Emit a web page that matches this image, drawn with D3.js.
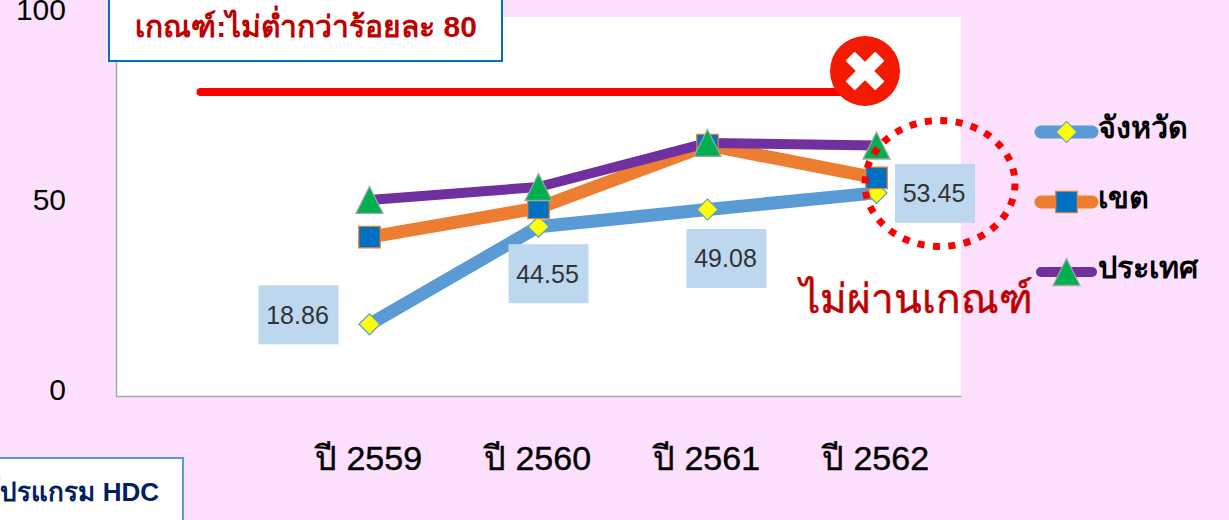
<!DOCTYPE html>
<html>
<head>
<meta charset="utf-8">
<script src="https://cdn.jsdelivr.net/npm/d3@7"></script>
<style>
  html, body { margin: 0; padding: 0; background: #fde0fd; overflow: hidden; }
  svg { display: block; }
  text { font-family: "Liberation Sans", "Noto Sans", sans-serif; }
</style>
</head>
<body>
<div id="chart"></div>
<script>
// first category is blank, only the 80 line starts there
var categories = ["", "ปี 2559", "ปี 2560", "ปี 2561", "ปี 2562"];
var yTicks = [0, 50, 100];
var criterion = [80, 80, 80, 80, 80];
var province = [null, 18.86, 44.55, 49.08, 53.45];
var region = [null, 41.8, 49.5, 66, 57.4];
var country = [null, 51.6, 55, 66.6, 65.9];
var seriesNames = ["จังหวัด", "เขต", "ประเทศ"];

var svg = d3.select("#chart")
    .append("svg")
    .attr("width", 1229)
    .attr("height", 520);

var x = d3.scaleBand().domain(categories).range([116, 961]);
var y = d3.scaleLinear().domain([0, 100]).range([396, 16]);

//-------------------------PLOT AREA-------------------------\\
svg.append("rect")
    .attr("x", 116).attr("y", 17)
    .attr("width", 845).attr("height", 379)
    .attr("fill", "#ffffff");

//-------------------------AXES-------------------------\\
var xAxis = d3.axisBottom(x).tickSize(0).tickPadding(50);
var yAxis = d3.axisLeft(y).tickValues(yTicks).tickSize(0).tickPadding(50);

var gx = svg.append("g").attr("transform", "translate(0,396)").call(xAxis);
gx.select(".domain").attr("stroke", "#a6a6a6").attr("stroke-width", 1.5);
gx.selectAll("text")
    .attr("dx", -1)
    .style("font-size", "34px")
    .style("font-family", '"Liberation Sans", "Noto Sans", sans-serif')
    .style("fill", "#000")
    .style("stroke", "#000")
    .style("stroke-width", 0.4);

var gy = svg.append("g").attr("transform", "translate(116,0)").call(yAxis);
gy.select(".domain").attr("stroke", "#a6a6a6").attr("stroke-width", 1.5);
gy.selectAll("text")
    .attr("transform", "translate(0,-6)")
    .style("font-size", "30px")
    .style("font-family", '"Liberation Sans", sans-serif')
    .style("fill", "#000");

//-------------------------SERIES-------------------------\\
var line = d3.line()
    .defined(d => d !== null)
    .x((d, i) => x(categories[i]) + x.bandwidth() / 2)
    .y(d => y(d));

var seriesStyle = [
    { values: province, color: "#5b9bd5", width: 13, shape: "diamond" },
    { values: region, color: "#ed7d31", width: 13, shape: "square" },
    { values: country, color: "#7030a0", width: 10, shape: "triangle" }
];

svg.append("path")
    .attr("d", line(criterion))
    .attr("fill", "none")
    .attr("stroke", "#ff0000")
    .attr("stroke-width", 8)
    .attr("stroke-linecap", "round");

function drawMarker(sel, shape) {
    if (shape == "diamond") {
        sel.attr("d", d3.symbol(d3.symbolSquare, 220)())
            .attr("fill", "#ffff00").attr("stroke", "#5b9bd5").attr("stroke-width", 1.2);
    } else if (shape == "square") {
        sel.attr("d", d3.symbol(d3.symbolSquare, 462)())
            .attr("fill", "#0070c0").attr("stroke", "#ed7d31").attr("stroke-width", 1.2);
    } else {
        sel.attr("d", d3.symbol(d3.symbolTriangle, 316)())
            .attr("fill", "#00b050").attr("stroke", "#a5a5a5").attr("stroke-width", 1.2);
    }
}

// marker transform, triangle is stretched and centred on its box like the original
function markerTransform(px, py, shape) {
    var t = "translate(" + px + "," + py + ")";
    if (shape == "diamond") return t + " rotate(45)";
    if (shape == "triangle") return t + " translate(0,4.5) scale(1,1.15)";
    return t;
}

seriesStyle.forEach(function(s) {
    svg.append("path")
        .attr("d", line(s.values))
        .attr("fill", "none")
        .attr("stroke", s.color)
        .attr("stroke-width", s.width)
        .attr("stroke-linejoin", "round");
});

seriesStyle.forEach(function(s) {
    svg.selectAll(".m-" + s.shape)
        .data(s.values.map((v, i) => [v, i]).filter(d => d[0] !== null))
        .join("path")
        .call(drawMarker, s.shape)
        .attr("transform", function(d) {
            return markerTransform(x(categories[d[1]]) + x.bandwidth() / 2, y(d[0]), s.shape);
        });
});

//-------------------------DATA LABELS-------------------------\\
// offset of each label box from its point
var labelDx = [0, -71, 10, 19, 58.5];
var labelDy = [0, -9.5, 47, 49, 0.5];

province.forEach(function(v, i) {
    if (v === null) return;
    var cx = x(categories[i]) + x.bandwidth() / 2 + labelDx[i];
    var cy = y(v) + labelDy[i];
    svg.append("rect")
        .attr("x", cx - 40).attr("y", cy - 29.5)
        .attr("width", 80).attr("height", 59)
        .attr("fill", "#bdd7ee");
    svg.append("text")
        .attr("x", cx - 1).attr("y", cy + 9)
        .attr("text-anchor", "middle")
        .style("font-family", '"Liberation Sans", sans-serif')
        .style("font-size", "25px")
        .style("fill", "#333333")
        .text(v.toFixed(2));
});

//-------------------------X MARK AND DOTTED RING-------------------------\\
svg.append("circle")
    .attr("cx", 865).attr("cy", 71).attr("r", 35)
    .attr("fill", "#f21a00");
[45, -45].forEach(function(a) {
    svg.append("rect")
        .attr("x", -21).attr("y", -6.5)
        .attr("width", 42).attr("height", 13)
        .attr("rx", 1)
        .attr("fill", "#ffffff")
        .attr("transform", "translate(865,71) rotate(" + a + ")");
});

svg.append("ellipse")
    .attr("cx", 940).attr("cy", 183.5)
    .attr("rx", 75).attr("ry", 63)
    .attr("fill", "none")
    .attr("stroke", "#ff0000")
    .attr("stroke-width", 7)
    .attr("stroke-dasharray", "7 8.5");

svg.append("text")
    .attr("x", 800).attr("y", 313)
    .style("font-size", "40.6px")
    .style("fill", "#c00000")
    .style("stroke", "#c00000")
    .style("stroke-width", 0.5)
    .text("ไม่ผ่านเกณฑ์");

//-------------------------BOXES-------------------------\\
svg.append("rect")
    .attr("x", 109).attr("y", -10)
    .attr("width", 393).attr("height", 71)
    .attr("fill", "#ffffff")
    .attr("stroke", "#0070c0")
    .attr("stroke-width", 2);
svg.append("text")
    .attr("x", 306).attr("y", 37)
    .attr("text-anchor", "middle")
    .style("font-size", "30px")
    .style("font-weight", "700")
    .style("fill", "#c00000")
    .text("เกณฑ์:ไม่ต่ำกว่าร้อยละ 80");

svg.append("rect")
    .attr("x", -10).attr("y", 458)
    .attr("width", 193).attr("height", 80)
    .attr("fill", "#ffffff")
    .attr("stroke", "#5b9bd5")
    .attr("stroke-width", 2);
svg.append("text")
    .attr("x", 159).attr("y", 501)
    .attr("text-anchor", "end")
    .style("font-size", "26px")
    .style("font-weight", "700")
    .style("fill", "#002060")
    .text("โปรแกรม HDC");

//-------------------------LEGEND-------------------------\\
var legendY = d3.scaleBand().domain(seriesNames).range([97, 307]);

seriesStyle.forEach(function(s, i) {
    var ly = legendY(seriesNames[i]) + legendY.bandwidth() / 2;
    svg.append("line")
        .attr("x1", 1041).attr("x2", 1092)
        .attr("y1", ly).attr("y2", ly)
        .attr("stroke", s.color)
        .attr("stroke-width", s.width)
        .attr("stroke-linecap", "round");
    svg.append("path")
        .call(drawMarker, s.shape)
        .attr("transform", markerTransform(1066.5, ly, s.shape));
    svg.append("text")
        .attr("x", 1098).attr("y", ly + 6)
        .style("font-size", "30.5px")
        .style("font-weight", "700")
        .style("fill", "#000")
        .text(seriesNames[i]);
});
</script>
</body>
</html>
